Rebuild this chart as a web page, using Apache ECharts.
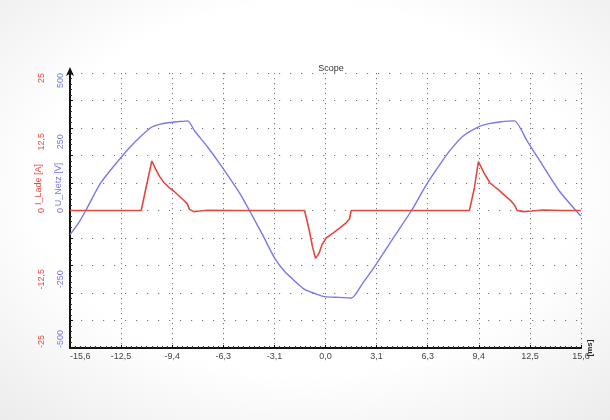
<!DOCTYPE html>
<html><head><meta charset="utf-8">
<script src="https://cdn.jsdelivr.net/npm/echarts@6/dist/echarts.min.js"></script>
<style>
html,body{margin:0;padding:0;width:610px;height:420px;overflow:hidden;
background:radial-gradient(ellipse 80% 80% at 50% 45%, #ffffff 55%, #e8e8e8 100%);}
#c{width:610px;height:420px;}
</style>
</head><body><div id="c"></div>
<script>
// x tick labels (ms) and y tick labels
const xTickLabels = ['-15,6','-12,5','-9,4','-6,3','-3,1','0,0','3,1','6,3','9,4','12,5','15,6'];
const voltTickLabels = ['-500','-250','0','250','500'];
const currTickLabels = ['-25','-12,5','0','12,5','25'];

// U_Netz [V]
const uTime = [-15.62,-15.1,-14.66,-13.74,-12.52,-11.70,-10.69,-10.1,-9.66,-9.0,
  -8.42,-8.01,-7.2,-6.43,-5.26,-4.65,-3.85,-3.12,-2.51,-1.85,
  -1.28,-0.6,-0.06,0.8,1.59,2.3,3.02,4.1,5.26,6.18,
  7.0,7.58,8.40,9.42,10.0,10.64,11.56,12.3,13.09,14.31,
  15.43,15.62];
const uNetz = [-88,-45,0,101,192,246,301,314,319,323,
  326,290,230,167,64,0,-88,-172,-221,-258,
  -287,-303,-313,-316,-318,-262,-202,-104,0,95,
  168,216,270,306,316,322,326,256,182,70,
  -8,-20];

// I_Lade [A]
const iTime = [-15.62,-11.27,-10.95,-10.62,-10.40,-10.15,-9.88,-9.54,-9.27,-8.72,
  -8.45,-8.32,-8.05,-7.7,-7.2,-5.5,-3.0,-1.28,-1.0,-0.80,
  -0.61,-0.40,-0.21,0.04,0.46,0.86,1.28,1.47,1.57,3.0,
  6.0,8.80,9.10,9.35,9.70,10.06,10.64,11.0,11.36,11.58,
  11.72,12.1,12.6,13.3,14.5,15.62];
const iLade = [0,0,4.5,9.0,7.6,6.2,5.1,4.1,3.5,2.0,
  1.2,0.2,-0.2,-0.1,0.05,0,0,0,-3.5,-6.5,
  -8.7,-7.8,-6.2,-5.0,-4.1,-3.2,-2.2,-1.5,0,0,
  0,0,4.0,8.9,6.8,5.0,3.6,2.6,1.7,0.9,
  0.0,-0.2,-0.1,0.1,0,0];

const X_MIN = -15.625, X_STEP = 3.125;
const RED = '#e5483f', BLUE = '#7878ec';

const chart = echarts.init(document.getElementById('c'), null, {renderer:'canvas'});
chart.setOption({
  animation:false,
  backgroundColor:'transparent',
  title:{text:'Scope', left:326, top:59, textAlign:'center',
    textStyle:{fontSize:9, fontWeight:'normal', color:'#333', fontFamily:'Liberation Sans'}},
  grid:{left:70, right:29, top:73, bottom:72, outerBoundsMode:'none', containLabel:false},
  xAxis:{type:'value', min:X_MIN, max:15.625, interval:X_STEP,
    axisLine:{show:true, onZero:false, lineStyle:{color:'#111', width:2}},
    axisTick:{show:true, inside:true, length:3, lineStyle:{color:'#111'}},
    minorTick:{show:true, splitNumber:10, length:2, lineStyle:{color:'#333'}},
    splitLine:{show:true, lineStyle:{color:'#777', width:1, type:[1.2,3.8]}},
    axisLabel:{fontSize:9, color:'#444', margin:4, fontFamily:'Liberation Sans', alignMinLabel:'left',
      formatter:v=>xTickLabels[Math.round((v - X_MIN)/X_STEP)]},
    name:'[ms]', nameLocation:'end', nameRotate:90, nameGap:9, nameMoveOverlap:false,
    nameTextStyle:{fontSize:8, color:'#222', fontWeight:'bold', fontFamily:'Liberation Sans', verticalAlign:'middle'}
  },
  yAxis:[
    {type:'value', min:-500, max:500, interval:250, position:'left',
      axisLine:{show:false}, axisTick:{show:false}, splitLine:{show:false},
      axisLabel:{rotate:90, fontSize:9, color:BLUE, margin:5, fontFamily:'Liberation Sans',
        alignMinLabel:'left', alignMaxLabel:'right',
        formatter:v=>voltTickLabels[Math.round((v+500)/250)]},
      name:'U_Netz [V]', nameLocation:'middle', nameRotate:90, nameGap:7, nameMoveOverlap:false,
      nameTextStyle:{fontSize:9, color:BLUE, fontFamily:'Liberation Sans', padding:[0,0,0,52]}
    },
    {type:'value', min:-25, max:25, interval:12.5, position:'left',
      axisLine:{show:false}, axisTick:{show:false}, splitLine:{show:false},
      axisLabel:{rotate:90, fontSize:9, color:RED, margin:24, fontFamily:'Liberation Sans',
        alignMinLabel:'left', alignMaxLabel:'right',
        formatter:v=>currTickLabels[Math.round((v+25)/12.5)]},
      name:'I_Lade [A]', nameLocation:'middle', nameRotate:90, nameGap:27, nameMoveOverlap:false,
      nameTextStyle:{fontSize:9, color:RED, fontFamily:'Liberation Sans', padding:[0,0,0,52]}
    },
    {type:'value', min:-500, max:500, interval:100, position:'left',
      axisLine:{show:true, onZero:false, lineStyle:{color:'#111', width:2},
        symbol:['none','arrow'], symbolSize:[6,9], symbolOffset:[0,6]},
      axisTick:{show:true, inside:true, length:3, lineStyle:{color:'#111'}},
      minorTick:{show:true, splitNumber:5, length:2, lineStyle:{color:'#333'}},
      axisLabel:{show:false},
      splitLine:{show:true, lineStyle:{color:'#777', width:1, type:[1.2,9.8]}}
    }
  ],
  series:[
    {type:'line', yAxisIndex:0, showSymbol:false, symbol:'none', smooth:0.2,
      data:uTime.map((t,i)=>[t,uNetz[i]]),
      lineStyle:{color:BLUE, width:1.4}, z:2},
    {type:'line', yAxisIndex:1, showSymbol:false, symbol:'none',
      data:iTime.map((t,i)=>[t,iLade[i]]),
      lineStyle:{color:RED, width:1.6}, z:3}
  ]
});
</script>
</body></html>
